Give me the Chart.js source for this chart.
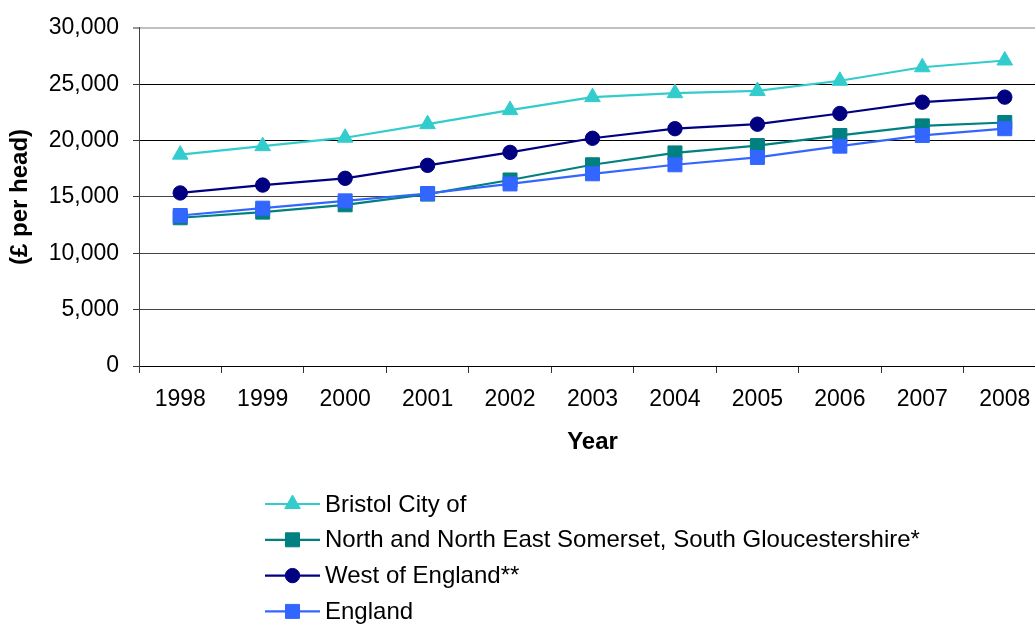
<!DOCTYPE html>
<html>
<head>
<meta charset="utf-8">
<script src="https://cdn.jsdelivr.net/npm/chart.js@4/dist/chart.umd.min.js"></script>
<style>
  html, body { margin: 0; padding: 0; background: #fff; overflow: hidden; }
  #wrap { width: 1035px; height: 624px; }
</style>
</head>
<body>
<div id="wrap"><canvas id="c" width="1035" height="624"></canvas></div>
<script>
// GVA per head, £, 1998-2008
const years = ['1998','1999','2000','2001','2002','2003','2004','2005','2006','2007','2008'];
const bristol       = [18750, 19500, 20250, 21450, 22700, 23850, 24200, 24400, 25300, 26500, 27100];
const northSomerset = [13150, 13650, 14300, 15250, 16500, 17850, 18900, 19550, 20450, 21300, 21600];
const westOfEngland = [15350, 16050, 16650, 17800, 18950, 20200, 21050, 21450, 22400, 23400, 23850];
const england       = [13350, 14000, 14650, 15300, 16150, 17050, 17850, 18500, 19500, 20450, 21050];

const seriesNames = [
  'Bristol City of',
  'North and North East Somerset, South Gloucestershire*',
  'West of England**',
  'England'
];

const FONT = '"Liberation Sans", Arial, sans-serif';

function series(label, data, color, style, radius, order) {
  return {
    label, data, order,
    borderColor: color, backgroundColor: color,
    borderWidth: 2.2,
    pointStyle: style, pointRadius: radius, pointHoverRadius: radius,
    pointBorderWidth: 1, pointBorderColor: color, pointBackgroundColor: color,
    tension: 0,
    clip: false
  };
}

const datasets = [
  series(seriesNames[0], bristol,       '#33CCCC', 'triangle', 9,   3),
  series(seriesNames[1], northSomerset, '#008080', 'rect',     9.9, 2),
  series(seriesNames[2], westOfEngland, '#000080', 'circle',   7.2, 1),
  series(seriesNames[3], england,       '#3366FF', 'rect',     9.9, 0)
];

// draws a marker shaped like the chart's point styles
function marker(ctx, style, r, x, y, color) {
  ctx.save();
  ctx.fillStyle = color; ctx.strokeStyle = color; ctx.lineWidth = 1;
  ctx.beginPath();
  if (style === 'triangle') {
    ctx.moveTo(x, y - r);
    ctx.lineTo(x + r * Math.sin(2 * Math.PI / 3), y + r / 2);
    ctx.lineTo(x - r * Math.sin(2 * Math.PI / 3), y + r / 2);
    ctx.closePath();
  } else if (style === 'rect') {
    const s = Math.SQRT1_2 * r;
    ctx.rect(x - s, y - s, 2 * s, 2 * s);
  } else {
    ctx.arc(x, y, r, 0, Math.PI * 2);
  }
  ctx.fill(); ctx.stroke();
  ctx.restore();
}

// legend stacked one entry per row below the axis title
const stackedLegend = {
  id: 'stackedLegend',
  afterDraw(chart) {
    const ctx = chart.ctx;
    const x0 = 265, x1 = 320, top = 504, step = 35.8;
    chart.data.datasets.forEach((ds, i) => {
      const y = top + i * step;
      ctx.save();
      ctx.strokeStyle = ds.borderColor; ctx.lineWidth = 2.2;
      ctx.beginPath(); ctx.moveTo(x0, y); ctx.lineTo(x1, y); ctx.stroke();
      ctx.restore();
      marker(ctx, ds.pointStyle, ds.pointRadius, (x0 + x1) / 2, y, ds.borderColor);
      ctx.save();
      ctx.fillStyle = '#000';
      ctx.font = '24px ' + FONT;
      ctx.textBaseline = 'middle';
      ctx.textAlign = 'left';
      ctx.fillText(ds.label, x1 + 5, y + 1);
      ctx.restore();
    });
  }
};

// the plot area runs a little past the right edge of the canvas
const extendRight = {
  id: 'extendRight',
  afterLayout(chart) {
    const plotRight = 1046;
    const ext = plotRight - chart.chartArea.right;
    const x = chart.scales.x;
    x.right += ext;
    x.width += ext;
    chart.chartArea.right += ext;
    chart.chartArea.width += ext;
    x.configure();
  }
};

function gridColor(ctx) {
  const v = ctx.tick && ctx.tick.value;
  if (v === 30000) return '#c0c0c0';
  if (v >= 20000) return '#000000';
  return '#444444';
}

new Chart(document.getElementById('c'), {
  type: 'line',
  data: { labels: years, datasets },
  plugins: [extendRight, stackedLegend],
  options: {
    responsive: false,
    animation: false,
    devicePixelRatio: 1,
    layout: { padding: { top: 23, bottom: 158, left: 0, right: 0 } },
    plugins: { legend: { display: false }, tooltip: { enabled: false } },
    scales: {
      x: {
        offset: true,
        afterFit(s) { s.height = 100; },
        grid: { offset: true, drawOnChartArea: false, drawTicks: true, tickLength: 7, tickColor: '#333', color: '#333' },
        border: { color: '#000', width: 1 },
        ticks: { color: '#000', font: { family: FONT, size: 23 }, padding: 13, maxRotation: 0, autoSkip: false },
        title: { display: true, text: 'Year', color: '#000', font: { family: FONT, size: 24, weight: 'bold' }, padding: { top: 0, bottom: 9 } }
      },
      y: {
        min: 0, max: 30000,
        afterFit(s) { s.width = 139; },
        grid: { color: gridColor, lineWidth: (c) => (c.tick && c.tick.value === 30000 ? 2 : 1), drawTicks: true, tickLength: 6, tickColor: '#333', tickWidth: 1 },
        border: { color: '#404040', width: 1 },
        ticks: {
          stepSize: 5000, color: '#000', padding: 14,
          font: { family: FONT, size: 23 },
          callback: (v) => Number(v).toLocaleString('en-US')
        },
        title: { display: true, text: '(£ per head)', color: '#000', font: { family: FONT, size: 24, weight: 'bold' }, padding: { top: 6, bottom: 0 } }
      }
    }
  }
});
</script>
</body>
</html>
